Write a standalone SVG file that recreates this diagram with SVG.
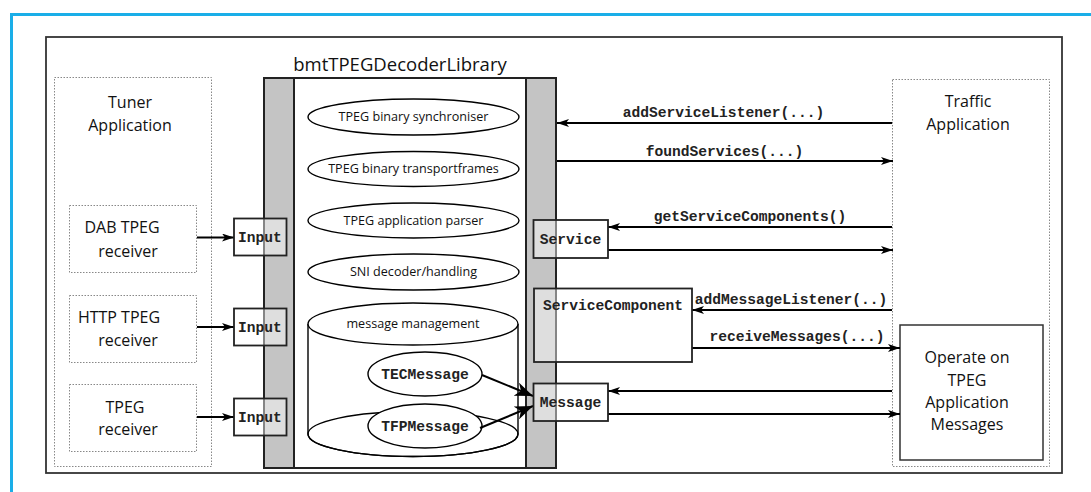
<svg xmlns="http://www.w3.org/2000/svg" width="1091" height="492" viewBox="0 0 1091 492">
<defs>
<style>
.sans{font-family:"Open Sans","Liberation Sans",sans-serif;fill:#111;}
.t16{font-size:16px;}
.t12{font-size:12.6px;}
.mono{font-family:"Liberation Mono","Courier New",monospace;font-weight:bold;font-size:14.6px;fill:#222;}
.dot{fill:#fff;stroke:#888;stroke-width:1;stroke-dasharray:1.5 1.5;}
.line{fill:none;stroke:#000;stroke-width:2;}
.ell{fill:#fff;stroke:#000;stroke-width:1.4;}
.bar{fill:#c4c4c4;stroke:#222;stroke-width:2;}
.iface{fill:#fff;fill-opacity:0.45;stroke:#222;stroke-width:1.8;}
</style>
<marker id="arr" viewBox="0 0 12 8" refX="12" refY="4" markerWidth="12" markerHeight="8" markerUnits="userSpaceOnUse" orient="auto">
<path d="M0,0 L12,4 L0,8 L3,4 Z" fill="#000"/>
</marker>
<marker id="big" viewBox="0 0 18 14" refX="18" refY="7" markerWidth="18" markerHeight="14" markerUnits="userSpaceOnUse" orient="auto">
<path d="M0,0 L18,7 L0,14 L5,7 Z" fill="#000"/>
</marker>
</defs>
<rect width="1091" height="492" fill="#fff"/>
<rect x="11.5" y="14.5" width="1100" height="500" fill="none" stroke="#1aaee8" stroke-width="3"/>
<rect id="frame" x="46" y="37" width="1016" height="436" fill="#fff" stroke="#333" stroke-width="1.8"/>

<g id="tuner">
<rect class="dot" x="54.5" y="77.5" width="157" height="389"/>
<text class="sans t16" x="130" y="108" text-anchor="middle">Tuner</text>
<text class="sans t16" x="130" y="131" text-anchor="middle">Application</text>
</g>
<g id="dab">
<rect class="dot" x="69.5" y="205.5" width="127" height="67"/>
<text class="sans t16" x="122" y="233" text-anchor="middle">DAB TPEG</text>
<text class="sans t16" x="128" y="257" text-anchor="middle">receiver</text>
</g>
<g id="http">
<rect class="dot" x="69.5" y="295.5" width="127" height="67"/>
<text class="sans t16" x="119" y="323" text-anchor="middle">HTTP TPEG</text>
<text class="sans t16" x="128" y="346" text-anchor="middle">receiver</text>
</g>
<g id="tpeg">
<rect class="dot" x="69.5" y="384.5" width="127" height="67"/>
<text class="sans t16" x="125" y="413" text-anchor="middle">TPEG</text>
<text class="sans t16" x="128" y="435" text-anchor="middle">receiver</text>
</g>

<g id="traffic">
<rect class="dot" x="892.5" y="79.5" width="157" height="387"/>
<text class="sans t16" x="968" y="107" text-anchor="middle">Traffic</text>
<text class="sans t16" x="968" y="130" text-anchor="middle">Application</text>
</g>
<g id="operate">
<rect x="900" y="325" width="143" height="135" fill="#fff" stroke="#333" stroke-width="1.5"/>
<text class="sans t16" x="967" y="363" text-anchor="middle">Operate on</text>
<text class="sans t16" x="967" y="386" text-anchor="middle">TPEG</text>
<text class="sans t16" x="967" y="408" text-anchor="middle">Application</text>
<text class="sans t16" x="967" y="430" text-anchor="middle">Messages</text>
</g>

<g id="library">
<text class="sans" x="400" y="71" text-anchor="middle" font-size="18.5">bmtTPEGDecoderLibrary</text>
<rect x="264" y="78" width="292" height="390" fill="#fff" stroke="#222" stroke-width="2"/>
<rect class="bar" x="264" y="78" width="30" height="390"/>
<rect class="bar" x="526" y="78" width="30" height="390"/>
</g>
<g id="sync">
<ellipse class="ell" cx="413.5" cy="117" rx="105.5" ry="18"/>
<text class="sans t12" x="413.5" y="121" text-anchor="middle">TPEG binary synchroniser</text>
</g>
<g id="transport">
<ellipse class="ell" cx="413.5" cy="169" rx="105.5" ry="17.5"/>
<text class="sans t12" x="413.5" y="173" text-anchor="middle">TPEG binary transportframes</text>
</g>
<g id="parser">
<ellipse class="ell" cx="413.5" cy="220.5" rx="105.5" ry="17.5"/>
<text class="sans t12" x="413.5" y="224.5" text-anchor="middle">TPEG application parser</text>
</g>
<g id="sni">
<ellipse class="ell" cx="413.5" cy="272" rx="105.5" ry="18"/>
<text class="sans t12" x="413.5" y="276" text-anchor="middle">SNI decoder/handling</text>
</g>
<g id="msgmgmt">
<path class="ell" d="M308,324 L308,434 A105,22.5 0 0 0 518,434 L518,324"/>
<ellipse class="ell" cx="413" cy="434" rx="105" ry="22.5" style="fill:none"/>
<ellipse class="ell" cx="413" cy="324" rx="105" ry="21"/>
<text class="sans t12" x="413" y="328" text-anchor="middle">message management</text>
</g>
<g id="tec">
<ellipse class="ell" cx="425" cy="374" rx="57" ry="22"/>
<text class="mono" x="425" y="379" text-anchor="middle">TECMessage</text>
</g>
<g id="tfp">
<ellipse class="ell" cx="425" cy="426" rx="57" ry="22"/>
<text class="mono" x="425" y="431" text-anchor="middle">TFPMessage</text>
</g>

<g id="connectors">
<line class="line" x1="197" y1="237.5" x2="234" y2="237.5" marker-end="url(#arr)"/>
<line class="line" x1="197" y1="327" x2="234" y2="327" marker-end="url(#arr)"/>
<line class="line" x1="197" y1="417" x2="234" y2="417" marker-end="url(#arr)"/>
<line class="line" x1="482" y1="375" x2="533" y2="396" stroke-width="1.5" marker-end="url(#big)"/>
<line class="line" x1="480" y1="428" x2="533" y2="406" stroke-width="1.5" marker-end="url(#big)"/>
<line class="line" x1="892" y1="123" x2="557" y2="123" marker-end="url(#arr)"/>
<line class="line" x1="557" y1="161" x2="893" y2="161" marker-end="url(#arr)"/>
<line class="line" x1="892" y1="227" x2="608" y2="227" marker-end="url(#arr)"/>
<line class="line" x1="608" y1="250" x2="893" y2="250" marker-end="url(#arr)"/>
<line class="line" x1="892" y1="310" x2="692" y2="310" marker-end="url(#arr)"/>
<line class="line" x1="692" y1="348" x2="900" y2="348" marker-end="url(#arr)"/>
<line class="line" x1="892" y1="391" x2="608" y2="391" marker-end="url(#arr)"/>
<line class="line" x1="608" y1="414" x2="900" y2="414" marker-end="url(#arr)"/>
<text class="mono" x="723.5" y="117" text-anchor="middle">addServiceListener(...)</text>
<text class="mono" x="724.5" y="156" text-anchor="middle">foundServices(...)</text>
<text class="mono" x="750" y="221" text-anchor="middle">getServiceComponents()</text>
<text class="mono" x="791" y="303.5" text-anchor="middle">addMessageListener(..)</text>
<text class="mono" x="797" y="341" text-anchor="middle">receiveMessages(...)</text>
</g>

<g id="input1">
<rect class="iface" x="234" y="218.5" width="52.5" height="37"/>
<text class="mono" x="260" y="242" text-anchor="middle">Input</text>
</g>
<g id="input2">
<rect class="iface" x="234" y="308.5" width="52.5" height="37"/>
<text class="mono" x="260" y="331.5" text-anchor="middle">Input</text>
</g>
<g id="input3">
<rect class="iface" x="234" y="398.5" width="52.5" height="37"/>
<text class="mono" x="260" y="421.5" text-anchor="middle">Input</text>
</g>
<g id="service">
<rect class="iface" x="533.5" y="220" width="74.5" height="38"/>
<text class="mono" x="570.5" y="243.5" text-anchor="middle">Service</text>
</g>
<g id="servicecomponent">
<rect class="iface" x="534" y="288.5" width="158" height="73.5" stroke-width="2.2"/>
<text class="mono" x="613" y="309.5" text-anchor="middle">ServiceComponent</text>
</g>
<g id="message">
<rect class="iface" x="533.5" y="383.5" width="74.5" height="37.5"/>
<text class="mono" x="570.5" y="407" text-anchor="middle">Message</text>
</g>
</svg>
